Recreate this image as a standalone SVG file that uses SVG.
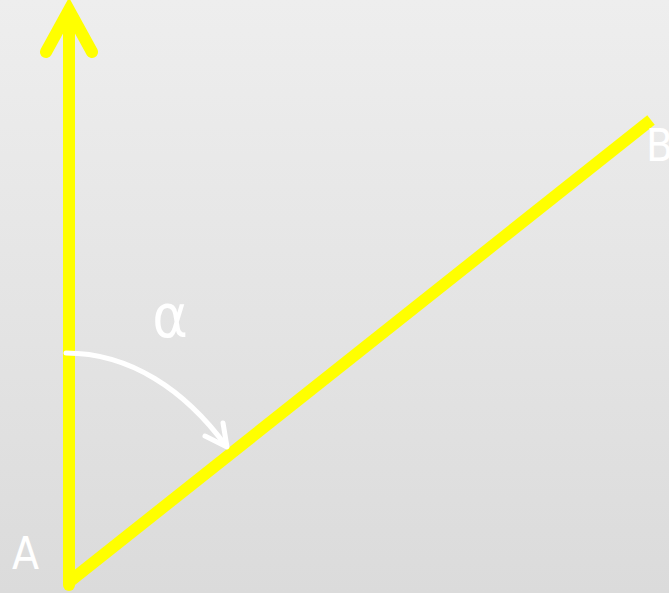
<svg xmlns="http://www.w3.org/2000/svg" width="669" height="593" viewBox="0 0 669 593">
<defs>
<linearGradient id="bg" x1="0" y1="0" x2="0" y2="1">
<stop offset="0" stop-color="#eeeeee"/>
<stop offset="1" stop-color="#dbdbdb"/>
</linearGradient>
<style>
.y{stroke:#ffff00;stroke-width:12;fill:none}
.w{stroke:#ffffff;stroke-width:5;fill:none;stroke-linecap:round;stroke-linejoin:round}
.t{fill:#ffffff;font-family:"DejaVu Sans Condensed","DejaVu Sans",sans-serif}
</style>
</defs>
<rect width="669" height="593" fill="url(#bg)"/>
<g id="connectors">
<path class="y" d="M69,585 L69,12" stroke-linecap="round"/>
<path class="y" d="M46,52 L69,10 L92,52" stroke-linecap="round" stroke-linejoin="miter"/>
<path class="y" d="M69,582 L651,120"/>
<path class="w" d="M66,353 C130,353 185,390 226,446"/>
<path class="w" d="M205,436 L227,447 L223,423"/>
</g>
<g id="A"><text class="t" x="12" y="569" font-size="44">A</text></g>
<g id="B"><text class="t" x="646" y="161" font-size="44">B</text></g>
<g id="alpha"><text class="t" x="170" y="337" font-size="60" text-anchor="middle">α</text></g>
</svg>
